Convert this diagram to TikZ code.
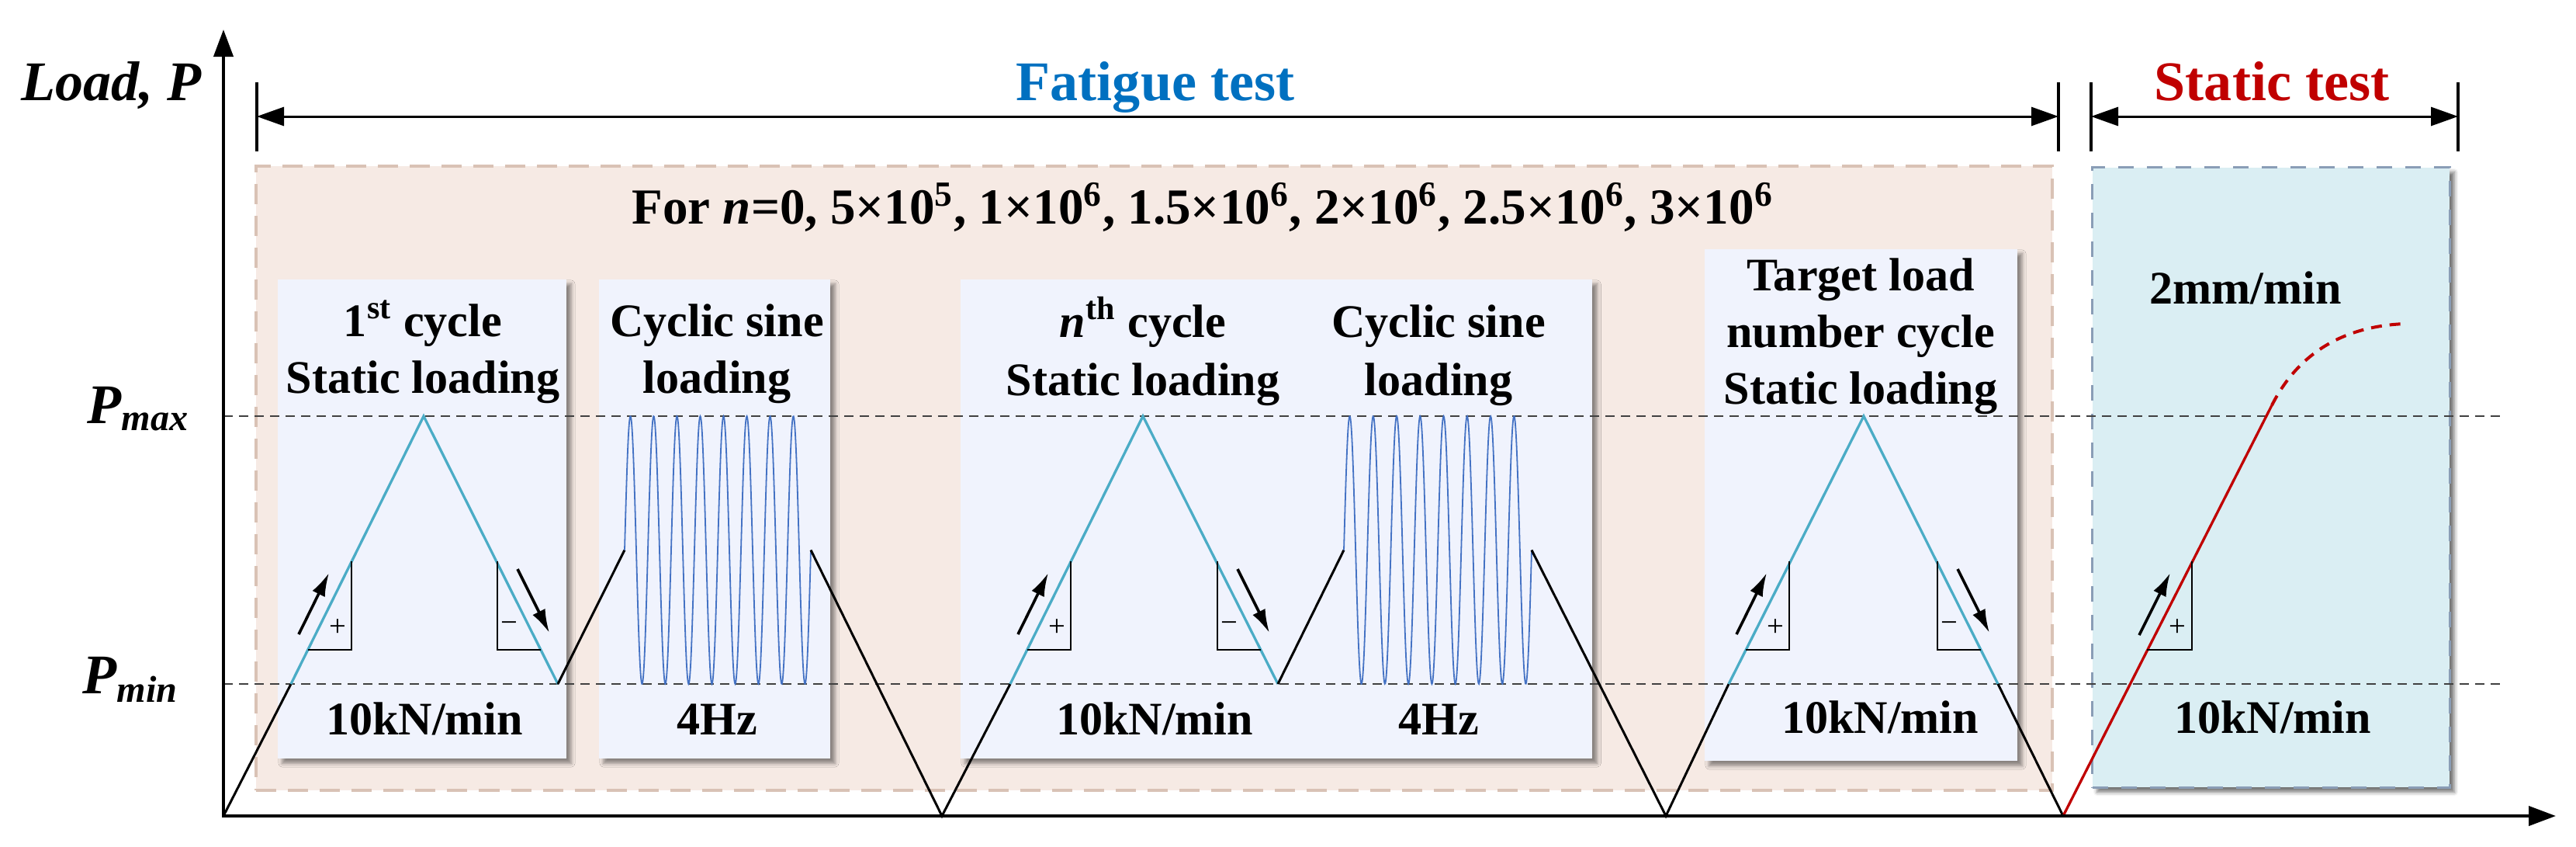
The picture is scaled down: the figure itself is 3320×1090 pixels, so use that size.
\documentclass[tikz,border=0pt]{standalone}
\usepackage{fontspec}
\setmainfont{Liberation Serif}
\usetikzlibrary{arrows.meta,shadows.blur}
\definecolor{fatfill}{HTML}{F6EAE4}
\definecolor{fatedge}{HTML}{D9C2B5}
\definecolor{statfill}{HTML}{DAEEF3}
\definecolor{statedge}{HTML}{8A9DB6}
\definecolor{innerfill}{HTML}{F0F3FD}
\definecolor{cyanw}{HTML}{4BACC6}
\definecolor{sinew}{HTML}{4472C4}
\definecolor{redw}{HTML}{C00000}
\definecolor{bluet}{HTML}{0070C0}
\definecolor{refgray}{HTML}{404040}
\newcommand\boxfont{\fontsize{17.1}{20}\selectfont\bfseries}
\newcommand\titlefont{\fontsize{20.5}{24}\selectfont\bfseries}
\newcommand\signfont{\fontsize{11}{12}\selectfont}
\begin{document}
\begin{tikzpicture}[x=0.01cm,y=-0.01cm,
  fatbox/.style={draw=fatedge, fill=fatfill, line width=0.04cm, dash pattern=on 0.26cm off 0.15cm, inner sep=0, outer sep=0},
  statbox/.style={draw=statedge, fill=statfill, line width=0.03cm, dash pattern=on 0.2cm off 0.17cm, inner sep=0, outer sep=0,
     blur shadow={shadow xshift=0.06cm, shadow yshift=-0.06cm, shadow blur radius=0.05cm, shadow opacity=55}},
  innerbox/.style={fill=innerfill, inner sep=0, outer sep=0,
     blur shadow={shadow xshift=0.06cm, shadow yshift=-0.06cm, shadow blur radius=0.05cm, shadow opacity=45}},
  refline/.style={draw=refgray, line width=0.022cm, dash pattern=on 0.12cm off 0.08cm},
  cyanline/.style={draw=cyanw, line width=0.033cm, line join=miter},
  blackline/.style={draw=black, line width=0.03cm},
  sineline/.style={draw=sinew, line width=0.018cm},
  redline/.style={draw=redw, line width=0.033cm},
  reddash/.style={draw=redw, line width=0.04cm, dash pattern=on 0.14cm off 0.1cm},
  slopetri/.style={draw=black, line width=0.022cm},
  slopearr/.style={draw=black, line width=0.036cm, -{Latex[length=0.3cm,width=0.18cm]}},
  dimline/.style={draw=black, line width=0.03cm, {Triangle[length=0.35cm,width=0.24cm]}-{Triangle[length=0.35cm,width=0.24cm]}},
  ticks/.style={draw=black, line width=0.035cm},
  axisline/.style={draw=black, line width=0.04cm, {Triangle[length=0.35cm,width=0.25cm]}-{Triangle[length=0.35cm,width=0.25cm]}},
  txt/.style={inner sep=0, anchor=base},
  sign/.style={inner sep=0, anchor=center}
]
\path[use as bounding box] (0,0) rectangle (3320,1090);

% ---------- background boxes ----------
\node[fatbox, minimum width=23.13cm, minimum height=8.04cm] (fatigue) at (1487.5,616) {};
\node[statbox, minimum width=4.60cm, minimum height=7.98cm] (static) at (2927,615) {};
\node[innerbox, minimum width=3.72cm, minimum height=6.17cm] (box1) at (544,668.5) {};
\node[innerbox, minimum width=2.98cm, minimum height=6.17cm] (box2) at (921,668.5) {};
\node[innerbox, minimum width=8.14cm, minimum height=6.17cm] (box3) at (1645,668.5) {};
\node[innerbox, minimum width=4.03cm, minimum height=6.59cm] (box4) at (2398.5,650.5) {};

% ---------- reference levels ----------
\coordinate (O) at (288,1051);
\coordinate (pmaxL) at (288,536);
\coordinate (pmaxR) at (3222,536);
\coordinate (pminL) at (288,881);
\coordinate (pminR) at (3222,881);
\draw[refline] (pmaxL) -- (pmaxR);
\draw[refline] (pminL) -- (pminR);

% ---------- waveform ----------
\draw[blackline] (O) -- (375,881);
\draw[cyanline] (375,881) -- (546,536) -- (719,881);
\draw[blackline] (719,881) -- (805,708.5);
\draw[sineline] plot[domain=0:8, samples=400] ({805+30*\x},{708.5-172.5*sin(360*\x)});
\draw[blackline] (1045,708.5) -- (1214,1051) -- (1302,881);
\draw[cyanline] (1302,881) -- (1473,536) -- (1647,881);
\draw[blackline] (1647,881) -- (1732,708.5);
\draw[sineline] plot[domain=0:8, samples=400] ({1732+30.25*\x},{708.5-172.5*sin(360*\x)});
\draw[blackline] (1974,708.5) -- (2147,1051) -- (2228,881);
\draw[cyanline] (2228,881) -- (2402,536) -- (2575,881);
\draw[blackline] (2575,881) -- (2659,1051);
\draw[redline] (2659,1051) -- (2928,522);
\draw[reddash] (2928,522) .. controls (2962,455) and (3020,420) .. (3100,417);

% ---------- slope triangles (+) ----------
\foreach \xs/\nm in {375/a,1302/b,2228/c}{
  \draw[slopetri] (\xs+22,837) -- (\xs+78,837) -- (\xs+78,723);
  \draw[slopearr] (\xs+10,817) -- (\xs+49,738);
  \node[sign] (plus\nm) at (\xs+60,809) {\signfont +};
}
\draw[slopetri] (2767,837) -- (2825,837) -- (2825,723);
\draw[slopearr] (2757,818) -- (2797,738);
\node[sign] (plusd) at (2806,809) {\signfont +};

% ---------- slope triangles (-) ----------
\foreach \xe/\nm in {719/a,1647/b,2575/c}{
  \draw[slopetri] (\xe-78,723) -- (\xe-78,837) -- (\xe-22,837);
  \draw[slopearr] (\xe-52,733) -- (\xe-11,815);
  \node[sign] (minus\nm) at (\xe-63,808) {\signfont −};
}

% ---------- axes ----------
\draw[axisline] (288,38) -- (O) -- (3294,1051);
\node[inner sep=0, anchor=base west] (ylabel) at (27,129) {\titlefont\itshape Load, P};
\node[inner sep=0, anchor=base west] (pmax) at (112,545)
  {\fontsize{20.5}{24}\selectfont\bfseries\itshape P\raisebox{-0.09cm}{\fontsize{13.7}{16}\selectfont max}};
\node[inner sep=0, anchor=base west] (pmin) at (106,893)
  {\fontsize{20.5}{24}\selectfont\bfseries\itshape P\raisebox{-0.11cm}{\fontsize{13.7}{16}\selectfont min}};

% ---------- dimension arrows ----------
\coordinate (fL) at (331,150);
\coordinate (fR) at (2653,150);
\coordinate (sL) at (2695,150);
\coordinate (sR) at (3168,150);
\foreach \x in {331,2653,2695,3168}{ \draw[ticks] (\x,106) -- (\x,195); }
\draw[dimline] (fL) -- (fR);
\draw[dimline] (sL) -- (sR);
\node[txt] (ftitle) at (1489,129) {\titlefont\color{bluet}Fatigue test};
\node[txt] (stitle) at (2928,129) {\titlefont\color{redw}Static test};

% ---------- texts ----------
\node[txt] (forline) at (1550,288) {\fontsize{18.5}{22}\selectfont\bfseries For \textit{n}=0, 5×10\textsuperscript{5}, 1×10\textsuperscript{6}, 1.5×10\textsuperscript{6}, 2×10\textsuperscript{6}, 2.5×10\textsuperscript{6}, 3×10\textsuperscript{6}};

\node[txt] (b1a) at (545,433) {\boxfont 1\textsuperscript{st} cycle};
\node[txt] (b1b) at (545,506) {\boxfont Static loading};
\node[txt] (b1c) at (547,946) {\boxfont 10kN/min};

\node[txt] (b2a) at (924,433) {\boxfont Cyclic sine};
\node[txt] (b2b) at (924,506) {\boxfont loading};
\node[txt] (b2c) at (924,946) {\boxfont 4Hz};

\node[txt] (b3a) at (1473,434) {\boxfont\textit{n}\textsuperscript{th} cycle};
\node[txt] (b3b) at (1473,509) {\boxfont Static loading};
\node[txt] (b3c) at (1488,946) {\boxfont 10kN/min};
\node[txt] (b3d) at (1854,434) {\boxfont Cyclic sine};
\node[txt] (b3e) at (1854,509) {\boxfont loading};
\node[txt] (b3f) at (1854,946) {\boxfont 4Hz};

\node[txt] (b4a) at (2398,374) {\boxfont Target load};
\node[txt] (b4b) at (2398,447) {\boxfont number cycle};
\node[txt] (b4c) at (2398,520) {\boxfont Static loading};
\node[txt] (b4d) at (2423,944) {\boxfont 10kN/min};

\node[txt] (s1) at (2894,391) {\boxfont 2mm/min};
\node[txt] (s2) at (2929,944) {\boxfont 10kN/min};
\end{tikzpicture}
\end{document}
